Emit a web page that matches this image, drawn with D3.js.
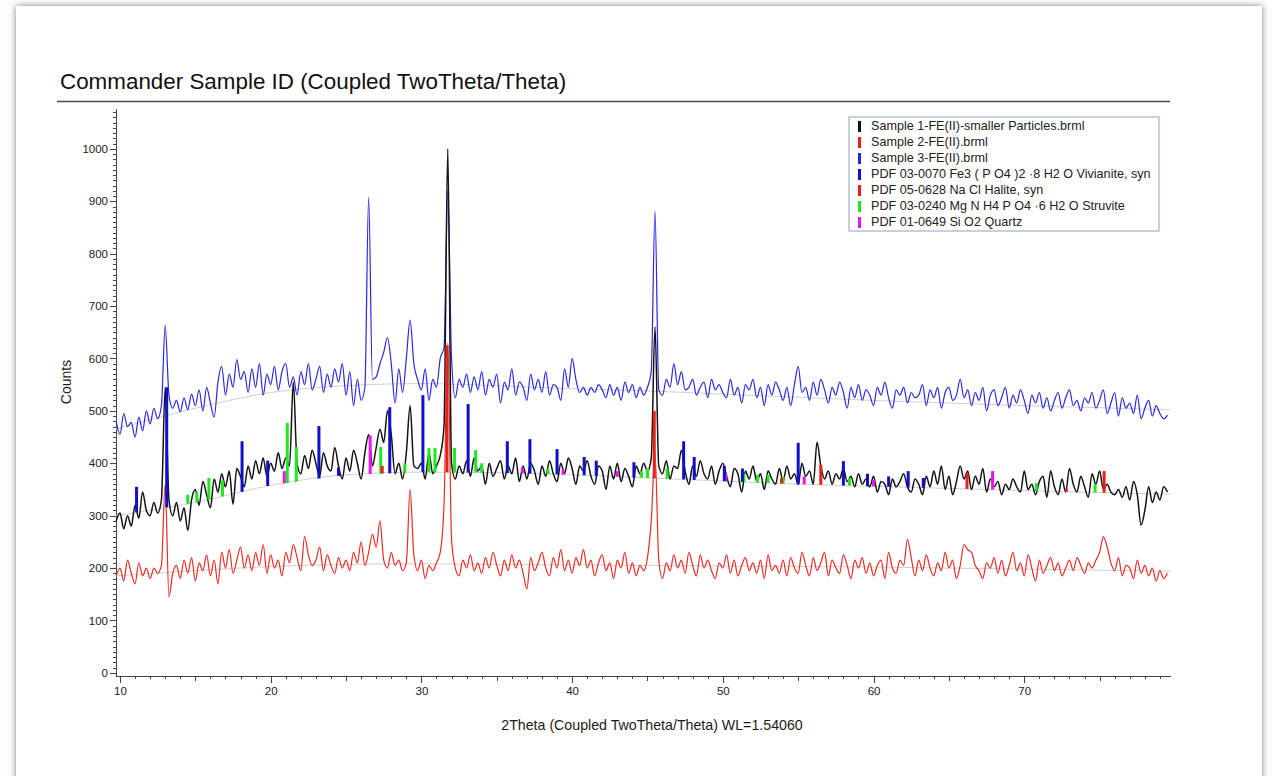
<!DOCTYPE html>
<meta charset="utf-8">
<style type="text/css">
    body { margin: 0; background: #fff; }
    svg text { font-family: "Liberation Sans", Arial, sans-serif; fill: #1a1a1a; }
    .axis path, .axis line { stroke: #444; shape-rendering: crispEdges; }
    .axis text { font-size: 11.5px; }
    .scan { fill: none; stroke-linejoin: round; }
    .bg { fill: none; stroke: #cfcfcf; stroke-width: 1; }
</style>
<body></body>
<script src="https://d3js.org/d3.v7.min.js"></script>
<script>

    // scan points are every 0.25 deg, 9.75 .. 79.5
    var thetaStart = 9.75, thetaStep = 0.25;

    // Sample 3-FE(II).brml (blue)
    var sample3 = [480,
        455, 495, 470, 478,   450, 488, 462, 500,   475, 505, 485, 510,   663, 530, 505, 520,
        498, 525, 502, 532,   510, 540, 500, 545,   515, 488, 555, 585,   530, 570, 545, 598,
        560, 575, 535, 580,   545, 590, 530, 570,   550, 585, 540, 575,   590, 545, 565, 530,
        575, 550, 590, 540,   560, 585, 535, 570,   545, 580, 555, 590,   530, 575, 510, 560,
        520, 545, 908, 560,   565, 590, 612, 640,   590, 515, 580, 535,   600, 673, 590, 560,
        540, 580, 520, 560,   545, 600, 620, 920,   600, 525, 560, 545,   570, 535, 565, 540,
        575, 530, 560, 545,   570, 515, 555, 540,   580, 530, 555, 545,   520, 570, 540, 560,
        535, 575, 530, 550,   545, 520, 580, 545,   600, 560, 535, 545,   530, 545, 535, 550,
        540, 525, 550, 530,   545, 520, 555, 535,   550, 525, 545, 530,   545, 575, 881, 540,
        530, 560, 545, 590,   550, 575, 540, 545,   560, 530, 545, 555,   525, 560, 540, 550,
        535, 525, 560, 530,   545, 515, 550, 540,   560, 525, 545, 510,   550, 530, 555, 540,
        520, 545, 510, 550,   585, 535, 545, 520,   555, 530, 560, 540,   515, 545, 530, 555,
        535, 505, 545, 525,   550, 520, 540, 530,   510, 545, 530, 555,   525, 505, 540, 530,
        545, 515, 535, 525,   530, 550, 510, 540,   525, 545, 505, 535,   545, 520, 530, 560,
        525, 540, 510, 535,   520, 545, 500, 530,   540, 510, 525, 545,   505, 530, 515, 540,
        520, 495, 530, 515,   535, 505, 525, 500,   520, 535, 505, 525,   540, 510, 520, 500,
        525, 515, 535, 505,   520, 540, 495, 515,   535, 490, 525, 505,   515, 495, 530, 485,
        505, 520, 490, 510,
        495, 485, 492];

    // Sample 1-FE(II)-smaller Particles.brml (black)
    var sample1 = [290,
        305, 275, 300, 280,   320, 295, 345, 310,   300, 325, 305, 330,   545, 330, 300, 325,
        290, 315, 272, 330,   350, 320, 365, 340,   315, 370, 345, 380,   355, 385, 322, 390,
        375, 355, 395, 370,   405, 380, 410, 375,   400, 385, 420, 390,   410, 395, 555, 400,
        380, 415, 390, 425,   400, 375, 420, 395,   385, 430, 395, 370,   410, 385, 425, 400,
        370, 420, 455, 395,   430, 465, 440, 500,   455, 380, 400, 370,   420, 510, 395, 390,
        400, 370, 420, 380,   395, 415, 470, 1000,  400, 370, 395, 380,   405, 375, 410, 385,
        395, 360, 400, 375,   390, 405, 370, 395,   380, 410, 365, 395,   370, 400, 385, 360,
        395, 375, 405, 380,   365, 400, 380, 410,   390, 360, 395, 385,   405, 375, 360, 395,
        385, 350, 395, 370,   400, 365, 390, 375,   355, 395, 380, 400,   385, 410, 660, 395,
        380, 405, 370, 395,   390, 425, 385, 360,   395, 375, 405, 380,   370, 395, 360, 385,
        400, 375, 355, 390,   380, 345, 385, 370,   395, 365, 380, 350,   385, 370, 360, 390,
        365, 395, 370, 380,   360, 400, 375, 385,   360, 440, 395, 370,   385, 360, 380, 370,
        390, 365, 375, 355,   380, 360, 370, 355,   375, 345, 365, 360,   340, 370, 355, 365,
        380, 355, 345, 370,   360, 340, 375, 355,   385, 360, 395, 350,   375, 340, 365, 395,
        370, 385, 350, 375,   360, 390, 345, 370,   355, 365, 340, 360,   350, 370, 355, 345,
        385, 350, 360, 340,   365, 375, 335, 385,   355, 340, 370, 345,   390, 360, 345, 375,
        355, 335, 380, 360,   385, 350, 360, 345,   340, 350, 335, 355,   330, 365, 340, 282,
        310, 355, 325, 345,
        330, 355, 345];

    // Sample 2-FE(II).brml (red)
    var sample2 = [185,
        200, 175, 215, 190,   170, 210, 185, 200,   180, 200, 190, 205,   360, 145, 190, 205,
        180, 215, 190, 220,   175, 210, 195, 225,   185, 215, 170, 230,   200, 235, 190, 215,
        240, 200, 225, 195,   230, 205, 245, 190,   225, 200, 215, 185,   230, 210, 245, 220,
        195, 260, 225, 205,   215, 240, 195, 225,   205, 190, 220, 200,   215, 195, 230, 210,
        250, 205, 230, 265,   240, 290, 215, 200,   230, 205, 215, 195,   210, 350, 225, 195,
        215, 180, 205, 195,   210, 230, 320, 630,   255, 200, 185, 215,   200, 225, 195, 210,
        190, 220, 200, 230,   205, 185, 215, 195,   225, 200, 215, 190,   160, 220, 195, 210,
        230, 200, 185, 220,   200, 235, 195, 215,   190, 220, 205, 235,   200, 215, 185, 210,
        225, 195, 210, 180,   215, 200, 230, 190,   210, 185, 205, 195,   220, 290, 420, 215,
        180, 210, 195, 225,   200, 215, 190, 230,   205, 185, 225, 200,   215, 195, 180, 210,
        200, 225, 190, 215,   185, 205, 220, 195,   210, 190, 215, 180,   225, 195, 205, 190,
        215, 185, 220, 200,   190, 230, 205, 185,   220, 195, 210, 230,   185, 215, 200, 190,
        225, 205, 180, 215,   200, 220, 190, 210,   185, 205, 215, 180,   230, 200, 190, 215,
        205, 255, 220, 185,   215, 195, 225, 200,   185, 210, 195, 230,   200, 215, 180, 205,
        245, 235, 230, 205,   195, 180, 210, 200,   220, 190, 215, 185,   205, 230, 195, 210,
        185, 225, 200, 175,   215, 190, 205, 220,   195, 210, 185, 200,   215, 195, 220, 205,
        190, 210, 200, 215,   230, 260, 240, 210,   195, 220, 185, 205,   200, 180, 215, 190,
        205, 185, 200, 175,
        195, 180, 190];

    // fitted backgrounds (grey curves under each scan)
    var bgTheta  = [9.7, 15, 20, 25, 30, 35, 40, 45, 50, 55, 60, 65, 70, 75, 79.7];
    var bgSample3 = [465, 505, 535, 548, 552, 548, 542, 538, 532, 526, 520, 515, 510, 506, 502];
    var bgSample1 = [300, 325, 358, 378, 383, 382, 378, 372, 366, 360, 356, 352, 348, 344, 341];
    var bgSample2 = [185, 195, 203, 207, 208, 207, 206, 205, 204, 203, 202, 200, 198, 196, 194];

    // PDF reference lines: [2theta, top in counts]
    var vivianite = [[11.1, 355], [13.1, 545], [18.1, 442], [19.8, 405], [23.2, 471], [24.5, 392],
        [27.9, 507], [30.1, 530], [33.1, 513], [35.7, 442], [37.2, 446], [39.0, 427], [40.8, 412],
        [41.6, 405], [44.1, 402], [47.4, 442], [48.1, 412], [50.1, 395], [51.3, 390], [55.0, 439],
        [58.0, 404], [59.6, 380], [61.0, 375], [62.3, 385], [63.3, 372]];
    var halite = [[27.4, 395], [31.7, 625], [45.45, 500], [53.9, 372], [56.5, 397], [66.2, 382],
        [72.8, 352], [75.3, 385]];
    var struvite = [[14.5, 340], [15.1, 345], [15.9, 372], [16.8, 367], [21.1, 477], [21.7, 431],
        [27.3, 431], [28.9, 400], [30.5, 429], [30.9, 429], [32.2, 429], [33.6, 425], [34.0, 400],
        [38.4, 390], [44.6, 385], [45.0, 390], [46.3, 390], [51.4, 380], [52.3, 378], [53.0, 378],
        [54.0, 375], [58.4, 372], [70.8, 362], [74.7, 360]];
    var quartz = [[20.9, 385], [26.6, 453], [36.7, 392], [39.4, 388], [43.0, 385], [50.2, 380],
        [55.4, 375], [60.0, 368], [67.9, 385]];

    var legendNames = ["Sample 1-FE(II)-smaller Particles.brml", "Sample 2-FE(II).brml", "Sample 3-FE(II).brml",
        "PDF 03-0070 Fe3 ( P O4 )2 \u00b78 H2 O Vivianite, syn", "PDF 05-0628 Na Cl Halite, syn",
        "PDF 03-0240 Mg N H4 P O4 \u00b76 H2 O Struvite", "PDF 01-0649 Si O2 Quartz"];
    var legendColors = ["#111111", "#e8201c", "#2424dc", "#1010c8", "#e8201c", "#1ee81e", "#f010f0"];

    var xTicks = [10, 20, 30, 40, 50, 60, 70];
    var yTicks = [0, 100, 200, 300, 400, 500, 600, 700, 800, 900, 1000];

    [sample1, sample2, sample3].forEach(function(s) {
        if (s.length !== 280) throw new Error("scan length " + s.length);
    });

    var W = 1272, H = 776;

    var x = d3.scaleLinear().domain([9.67, 79.67]).range([115, 1170]);
    var y = d3.scaleLinear().domain([-6, 1078]).range([676, 108]);

    var svg = d3.select("body").append("svg")
        .attr("width", W)
        .attr("height", H);

    // page with a soft shadow
    var defs = svg.append("defs");
    var f = defs.append("filter").attr("id", "shadow").attr("x", "-5%").attr("y", "-5%")
        .attr("width", "110%").attr("height", "110%");
    f.append("feDropShadow").attr("dx", 0).attr("dy", 0).attr("stdDeviation", 3)
        .attr("flood-color", "#000").attr("flood-opacity", 0.5);

    svg.append("rect").attr("width", W).attr("height", H).attr("fill", "#fdfdfd");
    svg.append("rect")
        .attr("x", 16).attr("y", 6).attr("width", 1246).attr("height", 820)
        .attr("fill", "#fff")
        .attr("filter", "url(#shadow)");

    // title + rule
    svg.append("text")
        .attr("x", 60).attr("y", 89)
        .style("font-size", "22.4px")
        .style("fill", "#111")
        .text("Commander Sample ID (Coupled TwoTheta/Theta)");
    svg.append("line")
        .attr("x1", 57).attr("x2", 1170).attr("y1", 101.5).attr("y2", 101.5)
        .attr("stroke", "#4a4a4a").attr("stroke-width", 1.6);

    // axes: major, mid and minor ticks
    var gx = svg.append("g").attr("class", "axis").attr("transform", "translate(0," + 676 + ")");
    gx.call(d3.axisBottom(x).tickValues(d3.range(10, 80, 1)).tickSize(3).tickFormat("").tickSizeOuter(0));
    gx.append("g").call(d3.axisBottom(x).tickValues(d3.range(15, 80, 10)).tickSize(5).tickFormat(""))
        .select(".domain").remove();
    gx.append("g").call(d3.axisBottom(x).tickValues(xTicks).tickSize(7).tickPadding(4).tickFormat(d3.format("d")))
        .select(".domain").remove();

    var gy = svg.append("g").attr("class", "axis").attr("transform", "translate(" + 116 + ",0)");
    gy.call(d3.axisLeft(y).tickValues(d3.range(0, 1071, 10)).tickSize(3).tickFormat("").tickSizeOuter(0));
    gy.append("g").call(d3.axisLeft(y).tickValues(yTicks).tickSize(6).tickPadding(2).tickFormat(d3.format("d")))
        .select(".domain").remove();
    svg.selectAll(".axis .tick text").attr("fill", "#1a1a1a");

    svg.append("text")
        .attr("transform", "translate(71,382) rotate(-90)")
        .attr("text-anchor", "middle")
        .style("font-size", "14px")
        .text("Counts");
    svg.append("text")
        .attr("x", 652).attr("y", 730)
        .attr("text-anchor", "middle")
        .style("font-size", "14.2px")
        .text("2Theta (Coupled TwoTheta/Theta) WL=1.54060");

    // backgrounds
    var bgLine = d3.line()
        .x(function(d) { return x(d[0]); })
        .y(function(d) { return y(d[1]); })
        .curve(d3.curveMonotoneX);
    [bgSample3, bgSample1, bgSample2].forEach(function(b) {
        svg.append("path").attr("class", "bg").attr("d", bgLine(bgTheta.map(function(t, i) { return [t, b[i]]; })));
    });

    // scans
    var scanLine = d3.line()
        .x(function(d, i) { return x(thetaStart + i * thetaStep); })
        .y(function(d) { return y(d); })
        .curve(d3.curveMonotoneX);

    svg.append("path").datum(sample3).attr("class", "scan")
        .attr("stroke", "#2828e0").attr("stroke-width", 1.2).attr("d", scanLine);
    svg.append("path").datum(sample2).attr("class", "scan")
        .attr("stroke", "#ea2a24").attr("stroke-width", 1.2).attr("d", scanLine);
    svg.append("path").datum(sample1).attr("class", "scan")
        .attr("stroke", "#141414").attr("stroke-width", 1.5).attr("d", scanLine);

    // reference sticks sit on the Sample 1 background
    var base1 = d3.scaleLinear().domain(bgTheta).range(bgSample1);

    function sticks(data, color) {
        svg.append("g").selectAll("line")
            .data(data)
            .join("line")
            .attr("x1", function(d) { return x(d[0]); })
            .attr("x2", function(d) { return x(d[0]); })
            .attr("y1", function(d) { return y(base1(d[0])); })
            .attr("y2", function(d) { return y(d[1]); })
            .attr("stroke", color)
            .attr("stroke-width", 3);
    }
    sticks(struvite, legendColors[5]);
    sticks(quartz, legendColors[6]);
    sticks(vivianite, legendColors[3]);
    sticks(halite, legendColors[4]);

    // legend
    var lg = svg.append("g").attr("transform", "translate(849,117)");
    lg.append("rect").attr("width", 310).attr("height", 114)
        .attr("fill", "#fff").attr("stroke", "#9fb2c6").attr("stroke-width", 1.2);
    var row = lg.selectAll(".row").data(legendNames).join("g")
        .attr("transform", function(d, i) { return "translate(0," + (9 + i * 16) + ")"; });
    row.append("rect").attr("x", 9).attr("y", -5).attr("width", 3).attr("height", 11)
        .attr("fill", function(d, i) { return legendColors[i]; });
    row.append("text").attr("x", 22).attr("dy", "0.35em")
        .style("font-size", "12.6px")
        .style("fill", "#222")
        .text(function(d) { return d; });

</script>
